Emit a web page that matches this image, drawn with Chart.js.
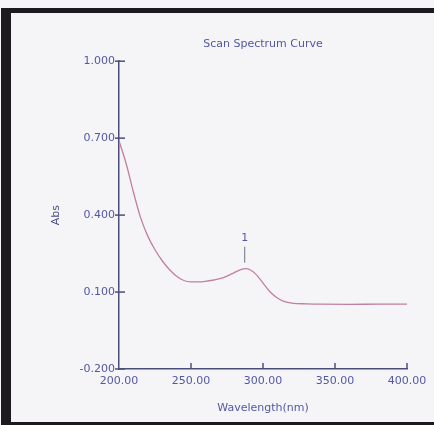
<!DOCTYPE html>
<html>
<head>
<meta charset="utf-8">
<script src="https://cdn.jsdelivr.net/npm/chart.js@4.4.1/dist/chart.umd.min.js"></script>
<style>
  html, body { margin: 0; padding: 0; background: #f5f5f7; }
  #wrap { position: relative; width: 434px; height: 425px; overflow: hidden; }
  #frame {
    position: absolute; left: 1px; top: 8px; width: 460px; height: 409px;
    border-left: 10px solid #1d1a1f; border-top: 5px solid #1d1a1f;
    border-bottom: 4px solid #1d1a1f; pointer-events: none;
  }
</style>
</head>
<body>
<div id="wrap">
  <canvas id="spectre" width="434" height="425"></canvas>
  <div id="frame"></div>
</div>
<script>
// Courbe de balayage spectral (absorbance en fonction de la longueur d'onde)

const wavelengths = [200, 205, 210, 215, 220, 225, 230, 235, 240, 245, 250, 255, 260, 265, 270, 275, 280, 285, 288, 291, 295, 300, 305, 310, 315, 320, 330, 340, 360, 380, 400];
const absorbance = [0.69, 0.60, 0.49, 0.39, 0.318, 0.265, 0.222, 0.188, 0.162, 0.145, 0.140, 0.140, 0.142, 0.146, 0.152, 0.162, 0.176, 0.188, 0.191, 0.187, 0.17, 0.135, 0.10, 0.077, 0.063, 0.057, 0.054, 0.053, 0.052, 0.053, 0.053];

// Graduations des axes
const xTicks = [200, 250, 300, 350, 400];
const yTicks = [-0.2, 0.1, 0.4, 0.7, 1.0];

// Pic repéré sur la courbe
const peakWavelengths = [288];
const peakLabels = ["1"];

const axisColor = "#4b4f78";
const textColor = "#5257a6";
const curveColor = "#c27f9f";
const font = "DejaVu Sans";

// Petits traits de graduation (croisent l'axe Y, montent depuis l'axe X)
const tickMarks = {
  id: "tickMarks",
  afterDraw(chart) {
    const ctx = chart.ctx;
    const x = chart.scales.x;
    const y = chart.scales.y;
    const area = chart.chartArea;
    ctx.save();
    ctx.strokeStyle = axisColor;
    ctx.lineWidth = 1.5;
    yTicks.forEach((v) => {
      const py = y.getPixelForValue(v);
      ctx.beginPath();
      ctx.moveTo(area.left - 4, py);
      ctx.lineTo(area.left + 6, py);
      ctx.stroke();
    });
    xTicks.slice(1).forEach((v) => {
      const px = x.getPixelForValue(v);
      ctx.beginPath();
      ctx.moveTo(px, area.bottom);
      ctx.lineTo(px, area.bottom - 6);
      ctx.stroke();
    });

    // Repère du pic
    ctx.strokeStyle = "#6d6f8c";
    ctx.lineWidth = 1;
    ctx.fillStyle = textColor;
    ctx.font = "11px '" + font + "'";
    ctx.textAlign = "center";
    ctx.textBaseline = "bottom";
    peakWavelengths.forEach((w, i) => {
      const idx = wavelengths.indexOf(w);
      const px = x.getPixelForValue(w);
      const py = y.getPixelForValue(absorbance[idx]);
      ctx.beginPath();
      ctx.moveTo(px - 1, py - 6);
      ctx.lineTo(px - 1, py - 22);
      ctx.stroke();
      ctx.fillText(peakLabels[i], px - 1, py - 25);
    });
    ctx.restore();
  },
};

const points = wavelengths.map((w, i) => ({ x: w, y: absorbance[i] }));

new Chart(document.getElementById("spectre"), {
  type: "line",
  data: {
    datasets: [
      {
        data: points,
        borderColor: curveColor,
        borderWidth: 1.3,
        pointRadius: 0,
        cubicInterpolationMode: "monotone",
        fill: false,
      },
    ],
  },
  options: {
    responsive: false,
    animation: false,
    layout: { padding: { left: 46, right: 27, top: 0, bottom: 6 } },
    plugins: {
      legend: { display: false },
      tooltip: { enabled: false },
      title: {
        display: true,
        text: "Scan Spectrum Curve",
        fullSize: false,
        color: textColor,
        font: { family: font, size: 11, weight: "normal" },
        padding: { top: 38, bottom: 10 },
      },
    },
    scales: {
      x: {
        type: "linear",
        min: 200,
        max: 400,
        afterBuildTicks: (scale) => {
          scale.ticks = xTicks.map((v) => ({ value: v }));
        },
        afterFit: (scale) => {
          scale.height = 50;
        },
        grid: { display: false, drawTicks: false },
        border: { display: true, color: axisColor, width: 1.5 },
        ticks: {
          color: textColor,
          font: { family: font, size: 11 },
          padding: 6,
          maxRotation: 0,
          callback: (v) => Number(v).toFixed(2),
        },
        title: {
          display: true,
          text: "Wavelength(nm)",
          color: textColor,
          font: { family: font, size: 11 },
          padding: { top: 4, bottom: 4 },
        },
      },
      y: {
        type: "linear",
        min: -0.2,
        max: 1.0,
        afterBuildTicks: (scale) => {
          scale.ticks = yTicks.map((v) => ({ value: v }));
        },
        afterFit: (scale) => {
          scale.width = 73;
        },
        grid: { display: false, drawTicks: false },
        border: { display: true, color: axisColor, width: 1.5 },
        ticks: {
          color: textColor,
          font: { family: font, size: 11 },
          padding: 4,
          callback: (v) => Number(v).toFixed(3),
        },
        title: {
          display: true,
          text: "Abs",
          color: "#4a4e8c",
          font: { family: font, size: 11 },
          padding: { top: 4, bottom: 4 },
        },
      },
    },
  },
  plugins: [tickMarks],
});
</script>
</body>
</html>
